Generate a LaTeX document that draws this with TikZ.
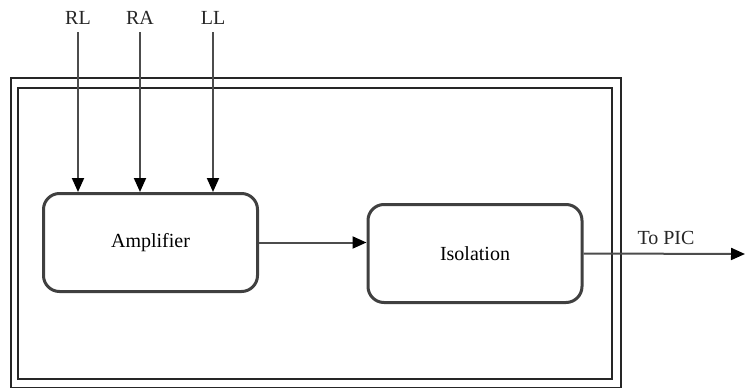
\documentclass[tikz,border=0pt]{standalone}
\usepackage{fontspec}
\setmainfont{Liberation Serif}
\usetikzlibrary{arrows.meta}

\tikzset{
  blockbox/.style={draw=black!75, line width=3pt, rounded corners=16pt, fill=white,
                   minimum width=214pt, minimum height=98pt},
  sig/.style={draw=black!70, line width=2pt, -{Triangle[length=14pt,width=12pt,color=black]}},
  frameline/.style={draw=black!85, line width=1.8pt},
  inlabel/.style={text=black!85},
}

\begin{document}
\begin{tikzpicture}[x=1pt,y=-1pt, font=\fontsize{20}{22}\selectfont]
  \useasboundingbox (0,0) rectangle (745,388);

  % Rahmen (doppelt)
  \draw[frameline] (11,78) rectangle (621,388);
  \draw[frameline] (18,88) rectangle (612,379);

  % Bloecke
  \node[blockbox] (amp) at (150.5,242.5) {Amplifier};
  \node[blockbox] (iso) at (475,253.5) {Isolation};

  % Eingaenge
  \node[inlabel] (rl) at (78,18) {RL};
  \node[inlabel] (ra) at (140,18) {RA};
  \node[inlabel] (ll) at (213,18) {LL};
  \draw[sig, shorten <=4pt] (rl.south) -- (rl.south |- amp.north);
  \draw[sig, shorten <=4pt] (ra.south) -- (ra.south |- amp.north);
  \draw[sig, shorten <=4pt] (ll.south) -- (ll.south |- amp.north);

  % Verbindung
  \draw[sig] (amp.east) -- (amp.east -| iso.west);

  % Ausgang
  \coordinate (pic) at (745,254);
  \draw[sig] (iso.east) -- (pic);
  \node[inlabel] (topic) at (666,238) {To PIC};

\end{tikzpicture}
\end{document}
